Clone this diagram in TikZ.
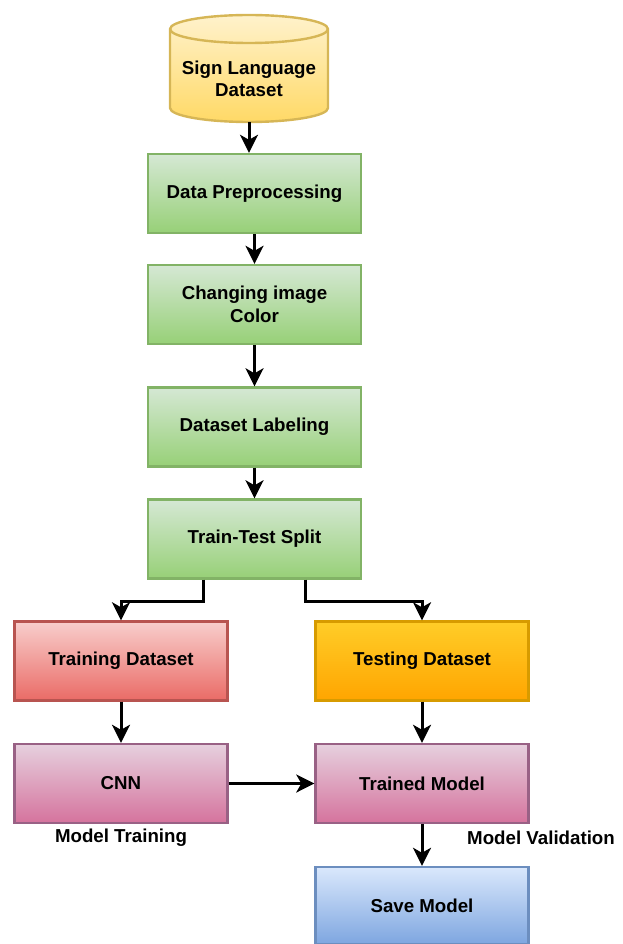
\documentclass[tikz,border=0pt]{standalone}
\usepackage{fontspec}
\setmainfont{Liberation Sans}
\usetikzlibrary{arrows.meta,calc}
\definecolor{ytop}{HTML}{FFF2CC}\definecolor{ybot}{HTML}{FFD966}\definecolor{ydr}{HTML}{D6B656}
\definecolor{gtop}{HTML}{D5E8D4}\definecolor{gbot}{HTML}{97D077}\definecolor{gdr}{HTML}{82B366}
\definecolor{rtop}{HTML}{F8CECC}\definecolor{rbot}{HTML}{EA6B66}\definecolor{rdr}{HTML}{B85450}
\definecolor{otop}{HTML}{FFCD28}\definecolor{obot}{HTML}{FFA500}\definecolor{odr}{HTML}{D79B00}
\definecolor{ptop}{HTML}{E6D0DE}\definecolor{pbot}{HTML}{D5739D}\definecolor{pdr}{HTML}{996185}
\definecolor{btop}{HTML}{DAE8FC}\definecolor{bbot}{HTML}{7EA6E0}\definecolor{bdr}{HTML}{6C8EBF}
\begin{document}
\begin{tikzpicture}[x=1pt,y=1pt,
  every node/.style={font=\fontsize{18.7}{22.4}\selectfont\bfseries, align=center, inner sep=0pt},
  box/.style={rectangle, minimum width=213pt, minimum height=79pt, line width=2.4pt},
  greenbox/.style={box, draw=gdr, top color=gtop, bottom color=gbot},
  redbox/.style={box, draw=rdr, top color=rtop, bottom color=rbot},
  orangebox/.style={box, draw=odr, top color=otop, bottom color=obot},
  pinkbox/.style={box, draw=pdr, top color=ptop, bottom color=pbot},
  bluebox/.style={box, draw=bdr, top color=btop, bottom color=bbot, minimum height=77pt},
  arr/.style={line width=3pt, -{Stealth[length=18pt,width=18pt,inset=5pt]}}
]
\useasboundingbox (0,0) rectangle (623,-944);
% cylinder
\shade[top color=ytop, bottom color=ybot, draw=ydr, line width=2.4pt]
  (170,-29) -- (170,-108) arc[start angle=180,end angle=360,x radius=79,y radius=14]
  -- (328,-29) arc[start angle=0,end angle=180,x radius=79,y radius=14] -- cycle;
\draw[ydr, line width=2.4pt] (170,-29) arc[start angle=180,end angle=360,x radius=79,y radius=14];
\node[minimum width=158pt, minimum height=108pt] (cyl) at (249,-68) {};
\node (cyltext) at (249,-79) {Sign Language\\Dataset};
% green boxes
\node[greenbox] (b1) at (254.5,-193.5) {Data Preprocessing};
\node[greenbox] (b2) at (254.5,-304.5) {Changing image\\Color};
\node[greenbox] (b3) at (254.5,-427) {Dataset Labeling};
\node[greenbox] (b4) at (254.5,-539) {Train-Test Split};
% lower boxes
\node[redbox] (train) at (121,-661) {Training Dataset};
\node[orangebox] (test) at (422,-661) {Testing Dataset};
\node[pinkbox] (cnn) at (121,-783.5) {CNN};
\node[pinkbox] (trained) at (422,-783.5) {Trained Model};
\node[bluebox] (save) at (422,-905.5) {Save Model};
% labels
\node (lt) at (121,-838) {Model Training};
\node (lv) at (541,-838) {Model Validation};
% arrows
\draw[arr] (cyl.south) -- (b1.north -| cyl.south);
\draw[arr] (b1) -- (b2);
\draw[arr] (b2) -- (b3);
\draw[arr] (b3) -- (b4);
\draw[arr] ([xshift=-51.5pt]b4.south) -- ++(0,-22) -| (train.north);
\draw[arr] ([xshift=50.5pt]b4.south) -- ++(0,-22) -| (test.north);
\draw[arr] (train) -- (cnn);
\draw[arr] (test) -- (trained);
\draw[arr] (cnn) -- (trained);
\draw[arr] (trained) -- (save);
\end{tikzpicture}
\end{document}
